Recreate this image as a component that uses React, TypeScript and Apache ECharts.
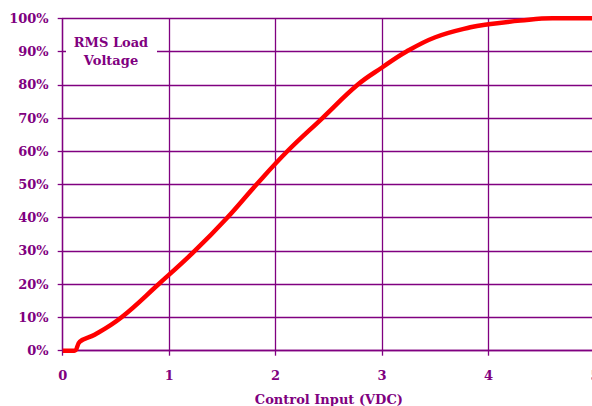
import React, { useEffect, useRef } from "react";
import * as echarts from "echarts";

const controlInput = [0, 0.11, 0.16, 0.3, 0.55, 0.9, 1.24, 1.545, 1.82, 2.11, 2.44, 2.77, 3.0, 3.23, 3.5, 3.83, 4.0, 4.3, 4.6, 5];
const rmsVoltage = [0, 0, 2.7, 4.8, 10, 20, 30, 40, 50, 60, 70, 80, 85.2, 90, 94.3, 97.3, 98.2, 99.3, 100, 100];
const yAxisName = ["RMS Load", "Voltage"];
const xAxisName = "Control Input (VDC)";

const PURPLE = "#800080";
const FONT = "DejaVu Serif";

export default function App() {
  const ref = useRef<HTMLDivElement>(null);
  useEffect(() => {
    if (!ref.current) return;
    const chart = echarts.init(ref.current, null, { renderer: "svg" });
    const data = controlInput.map((x, i) => [x, rmsVoltage[i]]);
    chart.setOption({
      animation: false,
      backgroundColor: "#ffffff",
      grid: {
        left: 62.7,
        right: -3,
        top: 18.3,
        bottom: 55.3,
        containLabel: false,
        outerBoundsMode: "none",
      },
      xAxis: {
        type: "value",
        min: 0,
        max: 5,
        interval: 1,
        name: xAxisName,
        nameLocation: "middle",
        nameGap: 42,
        nameTextStyle: { color: PURPLE, fontFamily: FONT, fontWeight: "bold", fontSize: 13 },
        axisLine: { show: true, lineStyle: { color: PURPLE, width: 1.3 } },
        axisTick: { show: true, length: 5, lineStyle: { color: PURPLE, width: 1.3 } },
        axisLabel: { color: PURPLE, fontFamily: FONT, fontWeight: "bold", fontSize: 13, margin: 18 },
        splitLine: { show: true, lineStyle: { color: PURPLE, width: 1.3 } },
      },
      yAxis: {
        type: "value",
        min: 0,
        max: 100,
        interval: 10,
        axisLine: { show: true, lineStyle: { color: PURPLE, width: 1.3 } },
        axisTick: { show: true, length: 5, lineStyle: { color: PURPLE, width: 1.3 } },
        axisLabel: {
          color: PURPLE,
          fontFamily: FONT,
          fontWeight: "bold",
          fontSize: 13,
          margin: 14,
          formatter: "{value}%",
        },
        splitLine: { show: true, lineStyle: { color: PURPLE, width: 1.3 } },
      },
      graphic: [
        {
          type: "rect",
          shape: { x: 66, y: 34, width: 91, height: 36 },
          style: { fill: "#ffffff" },
          z: 10,
        },
        {
          type: "text",
          x: 111,
          y: 42.5,
          z: 11,
          style: {
            text: yAxisName[0],
            fill: PURPLE,
            font: `bold 13px "${FONT}"`,
            align: "center",
            verticalAlign: "middle",
          },
        },
        {
          type: "text",
          x: 111,
          y: 60.5,
          z: 11,
          style: {
            text: yAxisName[1],
            fill: PURPLE,
            font: `bold 13px "${FONT}"`,
            align: "center",
            verticalAlign: "middle",
          },
        },
      ],
      series: [
        {
          type: "line",
          data,
          smooth: 0.4,
          symbol: "none",
          clip: false,
          lineStyle: { color: "#ff0000", width: 4.5 },
          z: 5,
        },
      ],
    });
    return () => chart.dispose();
  }, []);
  return (
    <div
      ref={ref}
      style={{ position: "fixed", left: 0, top: 0, width: 592, height: 406, background: "#fff" }}
    />
  );
}
